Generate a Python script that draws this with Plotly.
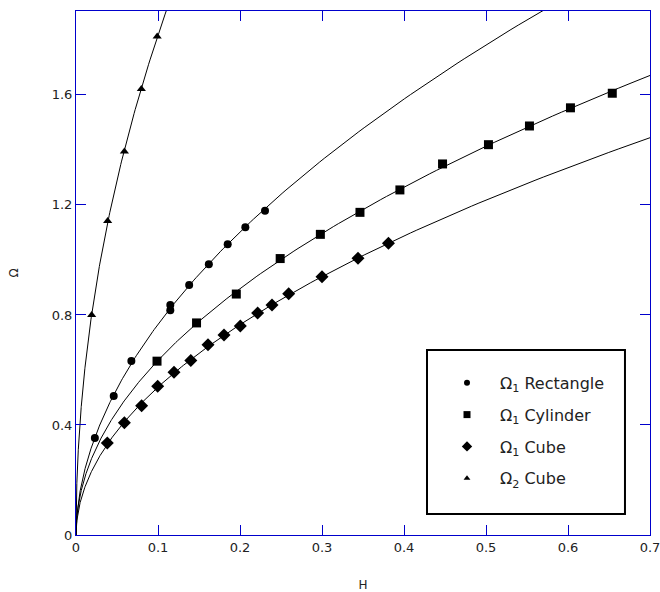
import numpy as np
import plotly.graph_objects as go

# ---- data ----
rect_H = [0.023, 0.046, 0.0675, 0.115, 0.115, 0.138, 0.162, 0.185, 0.2065, 0.2305]
rect_W = [0.353, 0.505, 0.633, 0.817, 0.836, 0.909, 0.984, 1.057, 1.119, 1.179]

cyl_H = [0.0988, 0.147, 0.1955, 0.249, 0.298, 0.3463, 0.395, 0.447, 0.503, 0.553, 0.603, 0.654]
cyl_W = [0.632, 0.771, 0.876, 1.005, 1.093, 1.173, 1.2545, 1.349, 1.419, 1.487, 1.553, 1.606]

cube1_H = [0.0382, 0.059, 0.080, 0.0996, 0.1195, 0.140, 0.161, 0.1805, 0.2004, 0.2215, 0.239, 0.2594, 0.300, 0.3439, 0.381]
cube1_W = [0.3345, 0.408, 0.470, 0.541, 0.592, 0.634, 0.692, 0.727, 0.760, 0.807, 0.836, 0.877, 0.939, 1.006, 1.061]

cube2_H = [0.0191, 0.0386, 0.059, 0.0797, 0.099]
cube2_W = [0.800, 1.142, 1.394, 1.621, 1.812]

names = ["Ω<sub>1</sub> Rectangle", "Ω<sub>1</sub> Cylinder", "Ω<sub>1</sub> Cube", "Ω<sub>2</sub> Cube"]
symbols = ["circle", "square", "diamond", "triangle-up"]
msizes = [8, 9, 10, 8]
legend_sizes = [6, 7, 8, 6]

series = [(rect_H, rect_W), (cyl_H, cyl_W), (cube1_H, cube1_W), (cube2_H, cube2_W)]

x_ticks = [0, 0.1, 0.2, 0.3, 0.4, 0.5, 0.6, 0.7]
y_ticks = [0, 0.4, 0.8, 1.2, 1.6]

BLUE = "#0000cc"

fig = go.Figure()

# power-law fit curves (fitted from the points above)
Hgrid = np.concatenate([[0.0], np.geomspace(1e-5, 0.7, 600)])
for (H, W) in series:
    b, loga = np.polyfit(np.log(H), np.log(W), 1)
    fit = np.exp(loga) * Hgrid ** b
    fig.add_trace(go.Scatter(x=Hgrid, y=fit, mode="lines",
                             line=dict(color="black", width=1),
                             showlegend=False, hoverinfo="skip"))

for (H, W), sym, ms in zip(series, symbols, msizes):
    fig.add_trace(go.Scatter(x=H, y=W, mode="markers",
                             marker=dict(symbol=sym, size=ms, color="black"),
                             showlegend=False))

# legend entries
for i, (name, sym, ls) in enumerate(zip(names, symbols, legend_sizes)):
    fig.add_trace(go.Scatter(x=[None], y=[None], mode="markers", name=name,
                             legendgroup=f"g{i}",
                             marker=dict(symbol=sym, size=ls, color="black")))

# legend frame
fig.add_shape(type="rect", xref="paper", yref="paper",
              x0=0.6115, x1=0.9564, y0=0.0401, y1=0.3531,
              line=dict(color="black", width=2), fillcolor="white", layer="above")

fig.update_layout(
    width=660, height=592,
    margin=dict(l=76, r=10, t=11, b=57, autoexpand=False),
    plot_bgcolor="white", paper_bgcolor="white",
    font=dict(family="DejaVu Sans", color="#222222", size=13),
    legend=dict(x=0.6237, y=0.3227, xanchor="left", yanchor="top",
                borderwidth=0, bgcolor="rgba(0,0,0,0)",
                font=dict(size=16, color="#222222"),
                tracegroupgap=8, itemwidth=56),
    xaxis=dict(range=[0, 0.7], tickvals=x_ticks, ticktext=[f"{v:g}" for v in x_ticks],
               showgrid=False, zeroline=False, showline=True, linecolor=BLUE, linewidth=1,
               mirror="ticks", ticks="inside", ticklen=10, tickcolor=BLUE,
               ticklabeloverflow="allow", automargin=False,
               title=dict(text="H", font=dict(size=12), standoff=27)),
    yaxis=dict(range=[0, 1.905], tickvals=y_ticks, ticktext=[f"{v:g}" for v in y_ticks],
               showgrid=False, zeroline=False, showline=True, linecolor=BLUE, linewidth=1,
               mirror="ticks", ticks="inside", ticklen=10, tickcolor=BLUE,
               automargin=False,
               title=dict(text="Ω", font=dict(size=12), standoff=30)),
)

fig.write_html("out.html")
